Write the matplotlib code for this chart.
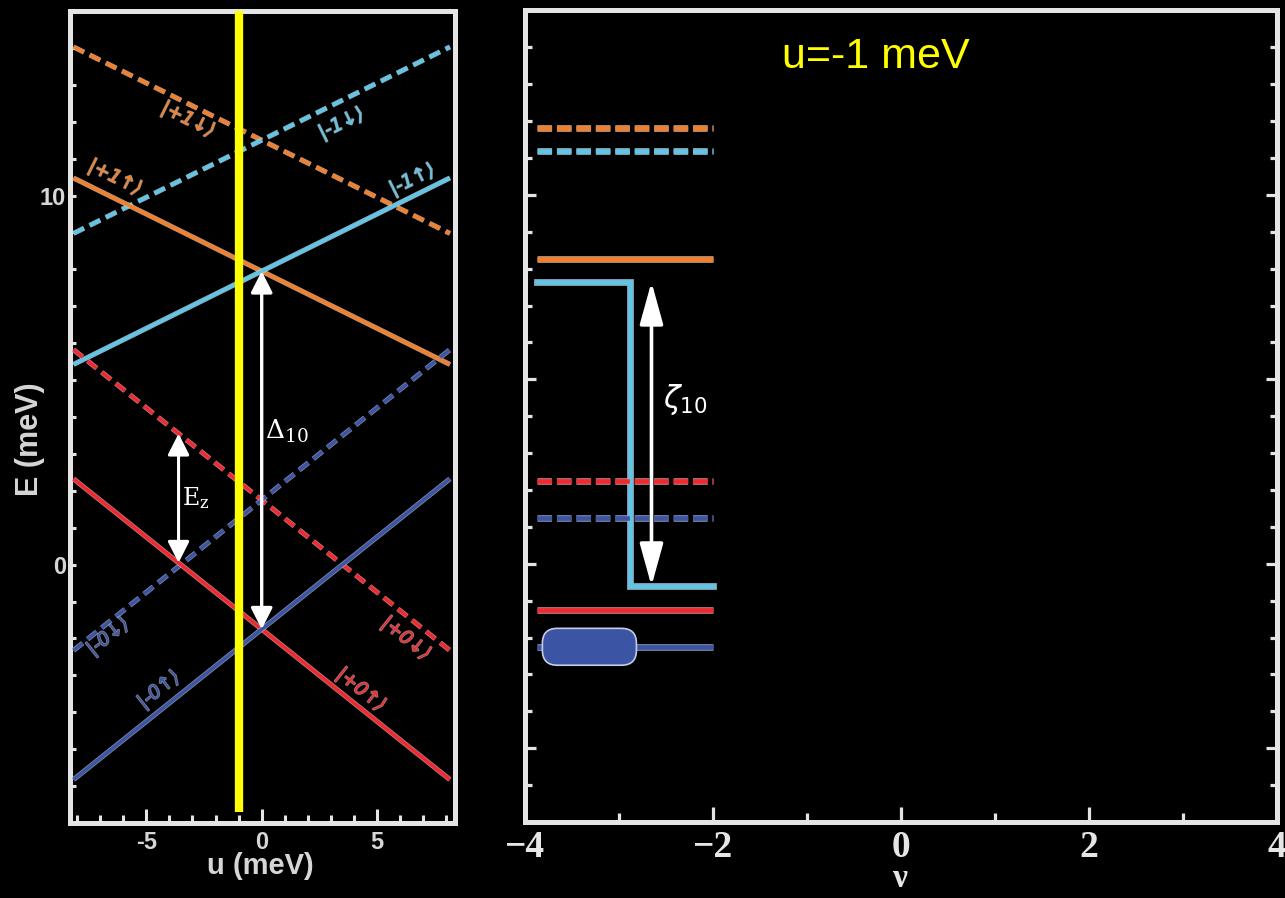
import numpy as np
import matplotlib
matplotlib.use("Agg")
import matplotlib.pyplot as plt
import matplotlib.patheffects as pe
from matplotlib.patches import FancyBboxPatch
from matplotlib.ticker import FixedLocator, MultipleLocator
from matplotlib.colors import to_rgb

plt.rcParams["lines.scale_dashes"] = False

ORANGE = "#F0802E"
CYAN = "#62C4E6"
RED = "#EE2A30"
BLUE = "#3B54A4"
YELLOW = "#FFFF00"
FRAME = "#E4E4E4"

# Landau levels: E(u) = E0 + slope * u   (meV)
level_labels = ["|+1↓⟩", "|-1↓⟩", "|+1↑⟩", "|-1↑⟩", "|+0↓⟩", "|-0↓⟩", "|+0↑⟩", "|-0↑⟩"]
level_E0 = [11.5, 11.5, 7.95, 7.95, 1.75, 1.75, -1.75, -1.75]
level_slope = [-0.31, 0.31, -0.31, 0.31, -0.5, 0.5, -0.5, 0.5]
level_colors = [ORANGE, CYAN, ORANGE, CYAN, RED, BLUE, RED, BLUE]
level_dashed = [True, True, False, False, True, True, False, False]
label_u = [-3.19, 3.45, -6.35, 6.52, 6.25, -6.65, 4.30, -4.45]
label_E = [12.06, 11.95, 10.49, 10.43, -2.0, -1.95, -3.39, -3.39]

u_span = [-8.15, 8.15]
u_cut = -1.0
cut_E_span = [-6.7, 15.0]

# gap markers in the u-panel
ez_u = -3.6
delta_u = 0.0

# filling-factor panel
nu_span = [-3.87, -2.0]
cyan_step_nu = -2.88
cyan_lower_E = -0.6
zeta_nu = -2.65
pill_nu = [-3.81, -2.81]
pill_height = 1.0

W, H = 1285, 898
fig = plt.figure(figsize=(W / 100, H / 100), dpi=100, facecolor="black")


def px_axes(l, t, r, b):
    return [l / W, 1 - b / H, (r - l) / W, (b - t) / H]


def light(c, f=0.55):
    r, g, b = to_rgb(c)
    return (r + (1 - r) * f, g + (1 - g) * f, b + (1 - b) * f)


def halo(c, lw, extra=1.4):
    return [pe.Stroke(linewidth=lw + extra, foreground=light(c), alpha=0.75), pe.Normal()]


axL = fig.add_axes(px_axes(70, 11, 455, 823))
axR = fig.add_axes(px_axes(524.5, 10.5, 1277, 822))

for ax in (axL, axR):
    ax.set_facecolor("black")
    for s in ax.spines.values():
        s.set_color(FRAME)
        s.set_linewidth(3.6)

# ---------------- left panel: E vs u ----------------
axL.set_xlim(-8.3, 8.37)
axL.set_ylim(-7, 15)

sans_bold = dict(family="Liberation Sans", weight="bold", color="#D6D6D6")

us = np.array(u_span)
lwL = 2.5
for E0, k, c, d in zip(level_E0, level_slope, level_colors, level_dashed):
    ln, = axL.plot(us, E0 + k * us, color=c, lw=lwL, solid_capstyle="butt",
                   path_effects=halo(c, lwL, 1.2), zorder=3)
    if d:
        ln.set_linestyle((0, (8.5, 4.5)))

# text rotation that follows each line on screen
fig.canvas.draw()
def screen_angle(ax, k):
    p = ax.transData.transform([[0, 0], [1, k]])
    dx, dy = p[1] - p[0]
    return np.degrees(np.arctan2(dy, dx))

for lab, x, y, k, c in zip(level_labels, label_u, label_E, level_slope, level_colors):
    axL.text(x, y, lab, color=c, fontsize=13.5, style="italic", family="DejaVu Sans",
             rotation=screen_angle(axL, k), rotation_mode="anchor",
             ha="center", va="center", zorder=4,
             path_effects=[pe.Stroke(linewidth=1.2, foreground=light(c, 0.7), alpha=0.6), pe.Normal()])

# Zeeman gap arrow
ez_lo = level_E0[6] + level_slope[6] * ez_u
ez_hi = level_E0[4] + level_slope[4] * ez_u
axL.annotate("", xy=(ez_u, ez_lo), xytext=(ez_u, ez_hi),
             arrowprops=dict(arrowstyle="<|-|>,head_length=0.65,head_width=0.33",
                             color="white", lw=2.2, mutation_scale=20,
                             shrinkA=0, shrinkB=0), zorder=5)
axL.text(ez_u + 0.15, (ez_lo + ez_hi) / 2, r"$\mathrm{E}_\mathrm{z}$", color="white",
         fontsize=17, math_fontfamily="dejavuserif", ha="left", va="center", zorder=5)

# orbital gap arrow
d_lo = level_E0[6] + level_slope[6] * delta_u
d_hi = level_E0[2] + level_slope[2] * delta_u
axL.annotate("", xy=(delta_u, d_lo), xytext=(delta_u, d_hi),
             arrowprops=dict(arrowstyle="<|-|>,head_length=0.65,head_width=0.33",
                             color="white", lw=2.4, mutation_scale=20,
                             shrinkA=0, shrinkB=0), zorder=5)
axL.text(delta_u + 0.14, 3.6, r"$\Delta_{10}$", color="white", fontsize=19,
         math_fontfamily="dejavuserif", ha="left", va="center", zorder=5)

# cut at fixed u
axL.plot([u_cut, u_cut], cut_E_span, color=YELLOW, lw=6, solid_capstyle="butt", zorder=6)

axL.xaxis.set_major_locator(FixedLocator([-5, 0, 5]))
axL.xaxis.set_minor_locator(MultipleLocator(1))
axL.yaxis.set_major_locator(FixedLocator([0, 10]))
axL.yaxis.set_minor_locator(MultipleLocator(1))
axL.tick_params(which="both", direction="in", color=FRAME, width=2.2,
                top=False, right=False)
axL.tick_params(axis="x", which="major", length=10, pad=6)
axL.tick_params(axis="x", which="minor", length=5.5)
axL.tick_params(axis="y", which="both", length=4, pad=3)
axL.set_xticklabels(["-5", "0", "5"], **sans_bold, fontsize=17)
axL.set_yticklabels(["0", "10"], **sans_bold, fontsize=17)
axL.set_xlabel("u (meV)", **sans_bold, fontsize=21, va="center")
axL.xaxis.set_label_coords(0.494, -0.053)
axL.set_ylabel("E (meV)", **sans_bold, fontsize=22, va="center")
axL.yaxis.set_label_coords(-0.104, 0.473)

# ---------------- right panel: E vs filling factor ----------------
axR.set_xlim(-4, 4)
axR.set_ylim(-7, 15)

cut_E = [E0 + k * u_cut for E0, k in zip(level_E0, level_slope)]
ns = np.array(nu_span)
lwR = 3.3

# cyan |-1↑> level drops at the step
cy = cut_E[3]
axR.plot([ns[0], cyan_step_nu, cyan_step_nu, ns[1]], [cy, cy, cyan_lower_E, cyan_lower_E],
         color=CYAN, lw=lwR, solid_joinstyle="miter", path_effects=halo(CYAN, lwR, 1.6), zorder=3)

for i, (E, c, d) in enumerate(zip(cut_E, level_colors, level_dashed)):
    if i == 3:
        continue
    ln, = axR.plot(ns, [E, E], color=c, lw=lwR, solid_capstyle="butt",
                   path_effects=halo(c, lwR, 1.6), zorder=4)
    if d:
        ln.set_linestyle((0, (10.5, 3.5)))

# occupied state marker on the lowest level
fig.canvas.draw()
bb = axR.get_window_extent()
x_per_px = 8 / bb.width
y_per_px = 22 / bb.height
asp = y_per_px / x_per_px
pill = FancyBboxPatch((pill_nu[0], cut_E[7] - pill_height / 2), pill_nu[1] - pill_nu[0], pill_height,
                      boxstyle=f"round,pad=0,rounding_size={15 * x_per_px}",
                      mutation_aspect=asp, facecolor=BLUE, edgecolor=light(BLUE, 0.7),
                      lw=1.2, zorder=5)
axR.add_patch(pill)

axR.annotate("", xy=(zeta_nu, cyan_lower_E), xytext=(zeta_nu, cy),
             arrowprops=dict(arrowstyle="<|-|>,head_length=1.3,head_width=0.36",
                             color="white", lw=2.6, mutation_scale=20,
                             shrinkA=0, shrinkB=0), zorder=6)
axR.text(-2.53, 4.45, r"$\zeta_{10}$", color="white", fontsize=22, ha="left", va="center", zorder=6)

axR.text(-0.26, 13.44, f"u={u_cut:g} meV", color=YELLOW, fontsize=31,
         family="Liberation Sans", ha="center", va="baseline")

axR.xaxis.set_major_locator(FixedLocator([-4, -2, 0, 2, 4]))
axR.xaxis.set_minor_locator(FixedLocator([-3, -1, 1, 3]))
axR.yaxis.set_major_locator(MultipleLocator(5))
axR.yaxis.set_minor_locator(MultipleLocator(1))
axR.tick_params(which="both", direction="in", color=FRAME, width=2.3,
                top=False, right=True, labelleft=False)
axR.tick_params(axis="x", which="major", length=11, pad=6)
axR.tick_params(axis="x", which="minor", length=6.5)
axR.tick_params(axis="y", which="major", length=8)
axR.tick_params(axis="y", which="minor", length=5)
serif_bold = dict(family="Liberation Serif", weight="bold", color="#E6E6E6")
axR.set_xticklabels(["\u22124", "\u22122", "0", "2", "4"], **serif_bold, fontsize=27)
axR.set_xlabel("ν", **serif_bold, fontsize=24, va="center")
axR.xaxis.set_label_coords(0.5, -0.07)

fig.savefig("out.png", dpi=100, facecolor="black")
